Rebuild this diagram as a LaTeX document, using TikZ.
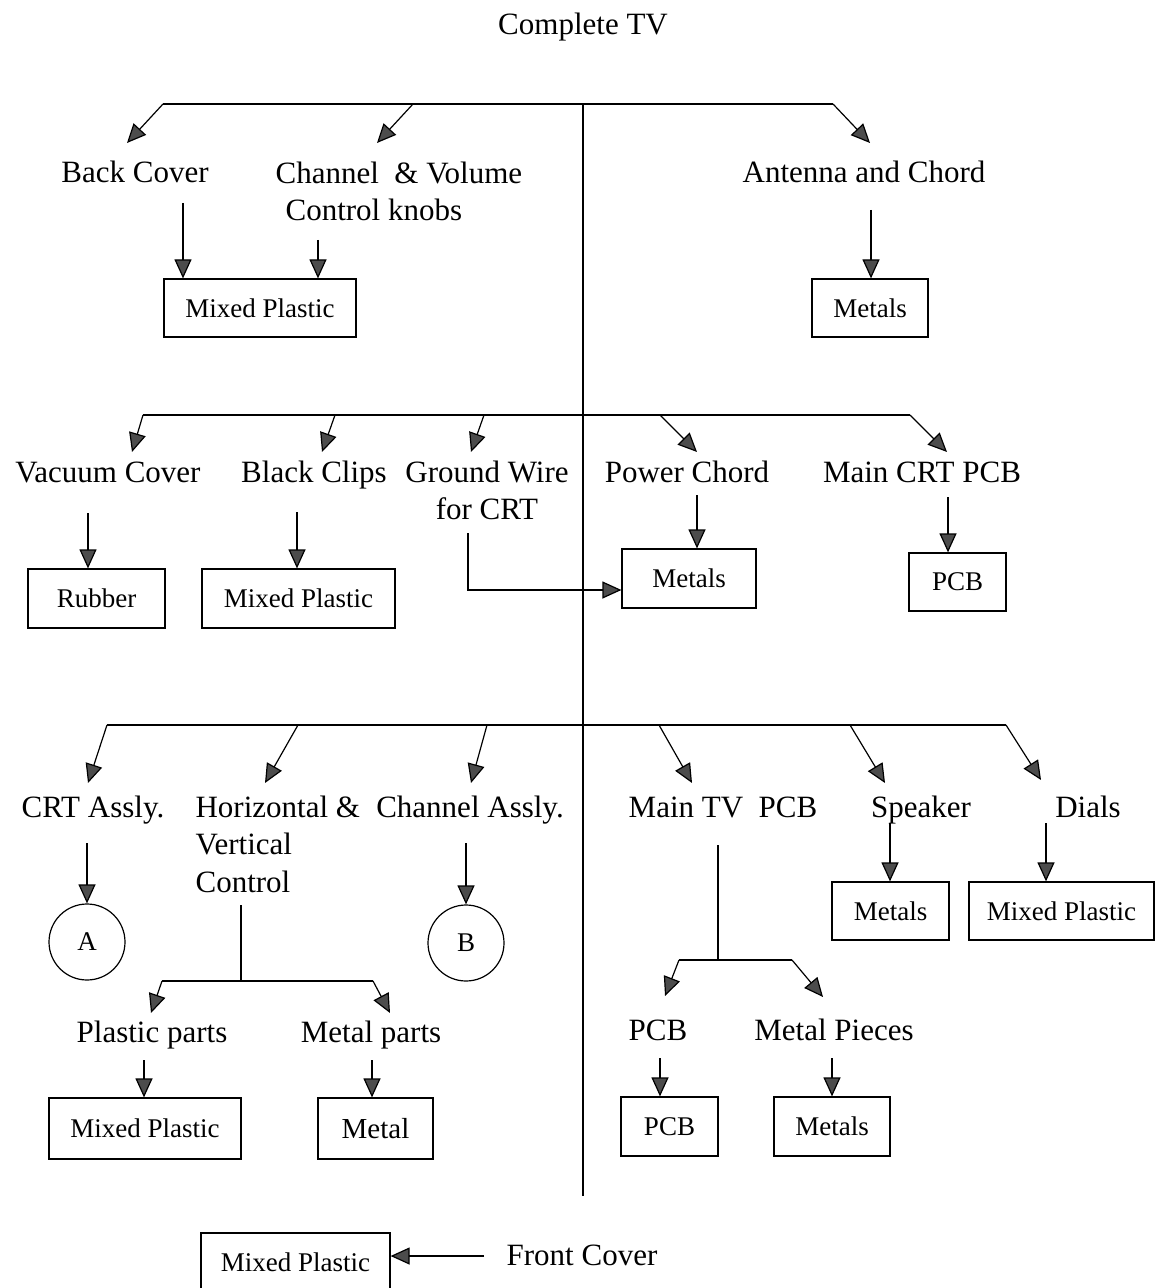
\documentclass[tikz,border=0pt]{standalone}
\usepackage{fontspec}
\setmainfont{Liberation Serif}
\usetikzlibrary{arrows.meta}
\begin{document}
\begin{tikzpicture}[x=0.5pt,y=-0.5pt,line width=0.6pt,
  arr/.style={-{Triangle[length=9.5pt,width=8.5pt,fill=black!70]}},
  lbl/.style={font=\fontsize{15.5}{18.75}\selectfont,inner sep=0pt},
  bx/.style={draw,font=\fontsize{13.5}{16}\selectfont,inner sep=0pt,minimum height=29.5pt},
  circ/.style={draw,circle,font=\fontsize{13.5}{16}\selectfont,inner sep=0pt,minimum size=38pt},
]
\path[clip] (0,0) rectangle (1155,1288);
\useasboundingbox (0,0) rectangle (1155,1288);

% ---------- boxes ----------
\node[bx,minimum width=96pt,minimum height=29pt] (mp1) at (260,308) {Mixed Plastic};
\node[bx,minimum width=58pt,minimum height=29pt] (met1) at (870,308) {Metals};
\node[bx,minimum width=68.5pt] (rub) at (96.5,598.5) {Rubber};
\node[bx,minimum width=96.5pt] (mp2) at (298.5,598.5) {Mixed Plastic};
\node[bx,minimum width=67pt] (met2) at (689,578.5) {Metals};
\node[bx,minimum width=48.5pt,minimum height=29pt] (pcb1) at (957.5,582) {PCB};
\node[bx,minimum width=58.5pt,minimum height=29pt] (met3) at (890.5,911) {Metals};
\node[bx,minimum width=92.5pt,minimum height=29pt] (mp4) at (1061.5,911) {Mixed Plastic};
\node[circ] (cA) at (87,942) {A};
\node[circ] (cB) at (466,943) {B};
\node[bx,minimum width=96pt,minimum height=30.5pt] (mp3) at (145,1128.5) {Mixed Plastic};
\node[bx,minimum width=57.5pt,minimum height=30.5pt,font=\fontsize{14.5}{17}\selectfont] (met5) at (375.5,1128.5) {Metal};
\node[bx,minimum width=48.5pt] (pcb2) at (669.5,1126.5) {PCB};
\node[bx,minimum width=58pt] (met4) at (832,1126.5) {Metals};
\node[bx,minimum width=94.5pt] (mp5) at (295.5,1262.5) {Mixed Plastic};

% ---------- labels ----------
\node[lbl,anchor=base] (title) at (583,35) {Complete TV};
\node[lbl,anchor=base] (back) at (135,183) {Back Cover};
\node[lbl,anchor=north west,align=left] (chan) at (275,161) {Channel\ \ \& Volume\\\hspace*{5pt}Control knobs};
\node[lbl,anchor=base] (ant) at (864,183) {Antenna and Chord};

\node[lbl,anchor=base] (vac) at (108,482) {Vacuum Cover};
\node[lbl,anchor=base] (clips) at (314,482) {Black Clips};
\node[lbl,anchor=north,align=center] (gw) at (487,460) {Ground Wire\\for CRT};
\node[lbl,anchor=base] (pow) at (687,482) {Power Chord};
\node[lbl,anchor=base] (mcrt) at (922,482) {Main CRT PCB};

\node[lbl,anchor=base] (crt) at (93,817) {CRT Assly.};
\node[lbl,anchor=north west,align=left] (horiz) at (195,795) {Horizontal \&\\Vertical\\Control};
\node[lbl,anchor=base] (chas) at (470,817) {Channel Assly.};
\node[lbl,anchor=base] (mtv) at (723,817) {Main TV\ \ PCB};
\node[lbl,anchor=base] (spk) at (921,817) {Speaker};
\node[lbl,anchor=base] (dial) at (1088,817) {Dials};

\node[lbl,anchor=base] (pparts) at (152,1042) {Plastic parts};
\node[lbl,anchor=base] (mparts) at (371,1042) {Metal parts};
\node[lbl,anchor=base] (pcbt) at (658,1040) {PCB};
\node[lbl,anchor=base] (mpieces) at (834,1040) {Metal Pieces};
\node[lbl,anchor=base] (front) at (582,1265) {Front Cover};

% ---------- main vertical ----------
\coordinate (v0) at (583,104);
\coordinate (v1) at (583,1196);
\draw (v0) -- (v1);

% ---------- row 1 ----------
\coordinate (b1l) at (163,104);
\coordinate (b1m) at (413,104);
\coordinate (b1r) at (833,104);
\coordinate (t1a) at (127,143);
\coordinate (t1b) at (377,143);
\coordinate (t1c) at (870,143);
\draw (b1l) -- (b1r);
\draw[arr] (b1l) -- (t1a);
\draw[arr] (b1m) -- (t1b);
\draw[arr] (b1r) -- (t1c);
\coordinate (s1a) at (183,203);
\coordinate (s1b) at (318,240);
\coordinate (s1c) at (871,210);
\draw[arr] (s1a) -- (s1a |- mp1.north);
\draw[arr] (s1b) -- (s1b |- mp1.north);
\draw[arr] (s1c) -- (s1c |- met1.north);

% ---------- row 2 ----------
\coordinate (b2l) at (143,415);
\coordinate (b2a) at (335,415);
\coordinate (b2b) at (484,415);
\coordinate (b2c) at (660,415);
\coordinate (b2r) at (910,415);
\draw (b2l) -- (b2r);
\coordinate (t2l) at (132,452);
\coordinate (t2a) at (322,452);
\coordinate (t2b) at (471,452);
\coordinate (t2c) at (697,452);
\coordinate (t2r) at (947,452);
\draw[arr] (b2l) -- (t2l);
\draw[arr] (b2a) -- (t2a);
\draw[arr] (b2b) -- (t2b);
\draw[arr] (b2c) -- (t2c);
\draw[arr] (b2r) -- (t2r);
\coordinate (s2a) at (88,513);
\coordinate (s2b) at (297,512);
\coordinate (s2d) at (697,495);
\coordinate (s2e) at (948,497);
\draw[arr] (s2a) -- (s2a |- rub.north);
\draw[arr] (s2b) -- (s2b |- mp2.north);
\draw[arr] (s2d) -- (s2d |- met2.north);
\draw[arr] (s2e) -- (s2e |- pcb1.north);
\coordinate (gw1) at (468,533);
\coordinate (gw2) at (468,590);
\draw[arr] (gw1) -- (gw2) -- (gw2 -| met2.west);

% ---------- row 3 ----------
\coordinate (b3l) at (107,725);
\coordinate (b3a) at (298,725);
\coordinate (b3b) at (487,725);
\coordinate (b3c) at (659,725);
\coordinate (b3d) at (850,725);
\coordinate (b3r) at (1006,725);
\draw (b3l) -- (b3r);
\coordinate (t3l) at (88,783);
\coordinate (t3a) at (265,783);
\coordinate (t3b) at (471,783);
\coordinate (t3c) at (692,783);
\coordinate (t3d) at (885,783);
\coordinate (t3r) at (1041,780);
\draw[arr] (b3l) -- (t3l);
\draw[arr] (b3a) -- (t3a);
\draw[arr] (b3b) -- (t3b);
\draw[arr] (b3c) -- (t3c);
\draw[arr] (b3d) -- (t3d);
\draw[arr] (b3r) -- (t3r);
\coordinate (s3a) at (87,843);
\coordinate (s3b) at (466,843);
\draw[arr] (s3a) -- (cA.north);
\draw[arr] (s3b) -- (cB.north);
\coordinate (s3d) at (890,823);
\coordinate (s3e) at (1046,823);
\draw[arr] (s3d) -- (s3d |- met3.north);
\draw[arr] (s3e) -- (s3e |- mp4.north);

% horizontal & vertical control split
\coordinate (hv1) at (241,905);
\coordinate (hv2) at (241,981);
\coordinate (hvl) at (162,981);
\coordinate (hvr) at (373,981);
\coordinate (thl) at (151,1013);
\coordinate (thr) at (390,1013);
\draw (hv1) -- (hv2);
\draw (hvl) -- (hvr);
\draw[arr] (hvl) -- (thl);
\draw[arr] (hvr) -- (thr);
\coordinate (s4a) at (144,1060);
\coordinate (s4b) at (372,1060);
\draw[arr] (s4a) -- (s4a |- mp3.north);
\draw[arr] (s4b) -- (s4b |- met5.north);

% main TV PCB split
\coordinate (mt1) at (718,845);
\coordinate (mt2) at (718,960);
\coordinate (mtl) at (679,960);
\coordinate (mtr) at (792,960);
\coordinate (tml) at (665,996);
\coordinate (tmr) at (823,997);
\draw (mt1) -- (mt2);
\draw (mtl) -- (mtr);
\draw[arr] (mtl) -- (tml);
\draw[arr] (mtr) -- (tmr);
\coordinate (s5a) at (660,1058);
\coordinate (s5b) at (832,1058);
\draw[arr] (s5a) -- (s5a |- pcb2.north);
\draw[arr] (s5b) -- (s5b |- met4.north);

% front cover
\coordinate (fc) at (484,1256);
\draw[arr] (fc) -- (fc -| mp5.east);
\end{tikzpicture}
\end{document}
